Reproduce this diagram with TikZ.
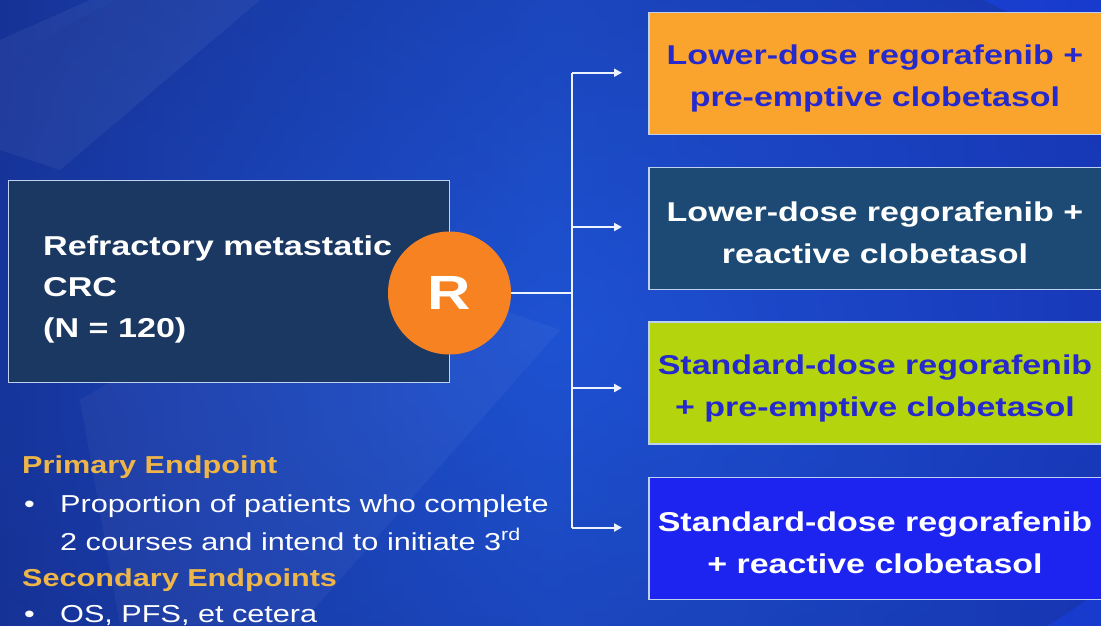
\documentclass[tikz,border=0pt]{standalone}
\usepackage{fontspec}
\setmainfont{Liberation Sans}
\newfontfamily\wide[FakeStretch=1.25]{Liberation Sans}
\usetikzlibrary{arrows.meta,calc}

\definecolor{bgdark}{RGB}{22,50,150}
\definecolor{bgmid}{RGB}{30,82,210}
\definecolor{bgright}{RGB}{24,58,205}
\definecolor{navybox}{RGB}{27,56,98}
\definecolor{rorange}{RGB}{246,130,34}
\definecolor{armorange}{RGB}{250,164,46}
\definecolor{armteal}{RGB}{28,74,116}
\definecolor{armlime}{RGB}{180,213,14}
\definecolor{armblue}{RGB}{30,36,240}
\definecolor{txtblue}{RGB}{38,42,205}
\definecolor{gold}{RGB}{238,182,72}
\definecolor{linewhite}{RGB}{236,242,255}
\definecolor{edge}{RGB}{190,210,240}

\tikzset{
  armbox/.style={draw=edge, line width=1.5pt, minimum width=457pt, minimum height=122pt, inner sep=0pt},
  armtext/.style={align=center, inner sep=0pt, font=\wide\bfseries\fontsize{27.2}{42}\selectfont},
  link/.style={draw=linewhite, line width=2pt},
  arr/.style={link, -{Triangle[length=8pt,width=8pt]}},
  head/.style={anchor=base west, inner sep=0pt, text=gold, font=\wide\bfseries\fontsize{24.5}{30}\selectfont},
  body/.style={anchor=base west, inner sep=0pt, text=white, font=\wide\fontsize{24.5}{30}\selectfont},
}

\begin{document}
\begin{tikzpicture}[x=1pt,y=-1pt]
\useasboundingbox (0,0) rectangle (1101,625);
\clip (0,0) rectangle (1101,625);

% backdrop: blue gradient with a soft central glow
\shade[left color=bgdark, right color=bgright, middle color=bgmid] (0,0) rectangle (1101,625);
\shade[inner color=bgmid, outer color=bgdark, opacity=0.45] (550,330) ellipse (700 and 420);
\fill[white, opacity=0.05] (0,40) -- (90,0) -- (260,0) -- (60,170) -- (0,150) -- cycle;
\fill[white, opacity=0.04] (80,400) -- (330,250) -- (560,330) -- (300,625) -- (120,625) -- cycle;

% population box and randomisation
\node[draw=edge, line width=1.5pt, fill=navybox, minimum width=441pt, minimum height=202pt, inner sep=0pt]
  (pop) at (229,281.5) {};
\node[anchor=north west, align=left, inner sep=0pt, text=white,
      font=\wide\bfseries\fontsize{27.3}{41}\selectfont]
  (poptext) at (43,235.5) {Refractory metastatic\\CRC\\(N = 120)};
\node[circle, fill=rorange, minimum size=123pt, inner sep=0pt, text=white,
      font=\wide\bfseries\fontsize{48}{50}\selectfont]
  (R) at (449.5,293) {R};

% treatment arms
\node[armbox, fill=armorange] (b1) at (877.5,73.5) {};
\node[armbox, fill=armteal]   (b2) at (877.5,228.5) {};
\node[armbox, fill=armlime]   (b3) at (877.5,383) {};
\node[armbox, fill=armblue]   (b4) at (877.5,538.5) {};

\node[armtext, text=txtblue] (t1) at (875,78) {Lower-dose regorafenib +\\pre-emptive clobetasol};
\node[armtext, text=white]   (t2) at (875,233) {Lower-dose regorafenib +\\reactive clobetasol};
\node[armtext, text=txtblue] (t3) at (875,388) {Standard-dose regorafenib\\+ pre-emptive clobetasol};
\node[armtext, text=white]   (t4) at (875,543) {Standard-dose regorafenib\\+ reactive clobetasol};

% branching connector
\coordinate (tr) at (572,293);
\coordinate (e1) at (622,72.7);
\coordinate (e2) at (622,227);
\coordinate (e3) at (622,388);
\coordinate (e4) at (622,527.5);
\draw[link] (R.east) -- (tr);
\draw[link] (e1 -| tr) -- (e4 -| tr);
\draw[arr] (e1 -| tr) -- (e1);
\draw[arr] (e2 -| tr) -- (e2);
\draw[arr] (e3 -| tr) -- (e3);
\draw[arr] (e4 -| tr) -- (e4);

% endpoints
\node[head] (h1) at (22,473) {Primary Endpoint};
\node[body] (d1) at (24,512) {•};
\node[body] (l1) at (60,512) {Proportion of patients who complete};
\node[body] (l2) at (60,550) {2 courses and intend to initiate 3\textsuperscript{rd}};
\node[head] (h2) at (22,586) {Secondary Endpoints};
\node[body] (d2) at (24,622) {•};
\node[body] (l3) at (60,622) {OS, PFS, et cetera};
\end{tikzpicture}
\end{document}
